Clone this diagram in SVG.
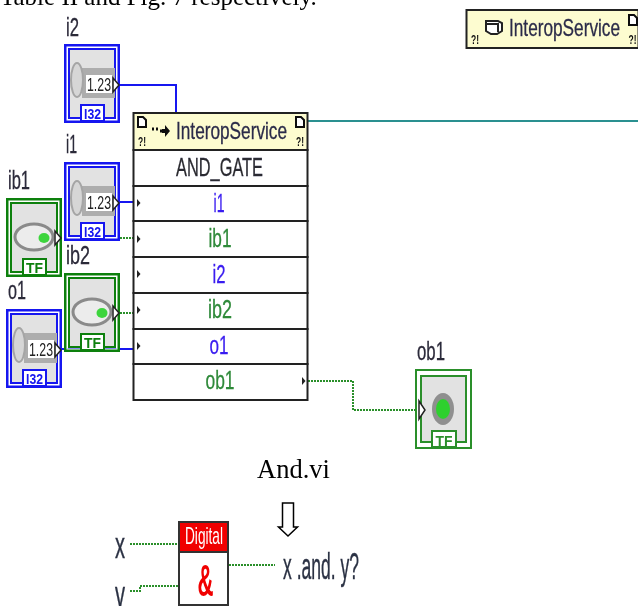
<svg xmlns="http://www.w3.org/2000/svg" width="638" height="606" viewBox="0 0 638 606">
<style>
.lb{font-family:"Liberation Sans",Arial,sans-serif;font-size:25px;fill:#2c2a3a;stroke:#2c2a3a;stroke-width:.3}
.ser{font-family:"Liberation Serif","Times New Roman",serif;fill:#000}
.row{fill:#fff;stroke:#222;stroke-width:2}
.blue{fill:#3a1df0;stroke:#3a1df0;stroke-width:.3}.grn{fill:#2f8a3a;stroke:#2f8a3a;stroke-width:.3}
.mid{text-anchor:middle}
.sans{font-family:"Liberation Sans",Arial,sans-serif}
.dk{stroke:#2c2c4a;stroke-width:.3}
.wb{fill:none;stroke:#1414f0;stroke-width:2}
.wg{fill:none;stroke:#2a8f2a;stroke-width:2;stroke-dasharray:2 1}
.tag{font-family:"Liberation Sans",Arial,sans-serif;font-weight:bold;font-size:14px;text-anchor:middle}
.hdr{fill:#fdfcd0;stroke:#222;stroke-width:2}
.warn{font-family:"Liberation Sans",Arial,sans-serif;font-size:12px;font-weight:bold;fill:#111;text-anchor:middle}
.doc{fill:#fff;stroke:#111;stroke-width:2}
</style>
<defs>
<filter id="soft" x="0" y="0" width="100%" height="100%"><feGaussianBlur stdDeviation="0.45"/></filter>
<polygon id="pin" points="0,-4 3.500,0 0,4" fill="#222"/>
<path id="docicon" class="doc" d="M0 0H5L8 3V10H0Z"/>
<g id="num">
<rect x="1.500" y="1.500" width="53" height="76" fill="none" stroke="#1414f0" stroke-width="3"/>
<rect x="3" y="3" width="50" height="73" fill="none" stroke="#fff" stroke-width="1"/>
<rect x="5" y="5" width="46" height="69" fill="#e2e2e2" stroke="#1414f0" stroke-width="2"/>
<rect x="18" y="24" width="33" height="30" fill="#adadad"/>
<ellipse cx="13" cy="36" rx="6" ry="17" fill="#d6d6d6" stroke="#a5a5a5" stroke-width="2"/>
<rect x="22" y="31" width="26" height="18" fill="#fff"/>
<text x="35" y="47" class="mid sans" font-size="18" fill="#222" textLength="24" lengthAdjust="spacingAndGlyphs">1.23</text>
<polygon points="49,34 55,41 49,48" fill="#fff" stroke="#222" stroke-width="1.500"/>
<rect x="17" y="61" width="23" height="16" fill="#fff" stroke="#1414f0" stroke-width="2"/>
<text x="28.500" y="75" class="tag" fill="#1414f0" textLength="17" lengthAdjust="spacingAndGlyphs">I32</text>
</g>
<g id="bool">
<rect x="1.500" y="1.500" width="53" height="76" fill="none" stroke="#0f800f" stroke-width="3"/>
<rect x="3" y="3" width="50" height="73" fill="none" stroke="#fff" stroke-width="1"/>
<rect x="5" y="5" width="46" height="69" fill="#e2e2e2" stroke="#0f800f" stroke-width="2"/>
<ellipse cx="28" cy="39" rx="19" ry="13" fill="#ececec" stroke="#8a8a8a" stroke-width="3"/>
<ellipse cx="38" cy="40" rx="5.500" ry="5" fill="#3ed53e"/>
<polygon points="49,33 55,40 49,47" fill="#fff" stroke="#222" stroke-width="1.500"/>
<rect x="17" y="61" width="23" height="16" fill="#fff" stroke="#0f800f" stroke-width="2"/>
<text x="28.500" y="75" class="tag" fill="#0f800f" textLength="17" lengthAdjust="spacingAndGlyphs">TF</text>
</g>
</defs>
<rect width="638" height="606" fill="#fff"/>
<g filter="url(#soft)">
<text class="ser" x="0" y="5" font-size="25">Table II and Fig. 7 respectively.</text>

<g id="connectors">
<path class="wb" d="M120 85H176V112"/>
<path class="wb" d="M120 202H133"/>
<path class="wg" d="M120 238H133"/>
<path class="wg" d="M120 313H133"/>
<path class="wb" d="M62 349H133"/>
<path fill="none" stroke="#2a9090" stroke-width="2" d="M307 121H638"/>
<path class="wg" d="M308 381H353V410H415"/>
<path class="wg" d="M130 544H179"/>
<path class="wg" d="M130 591H140V586H179"/>
<path class="wg" d="M229 565H275"/>
</g>

<g id="i2"><text class="lb" x="66" y="36" textLength="13" lengthAdjust="spacingAndGlyphs">i2</text><use href="#num" x="64" y="44"/></g>
<g id="i1"><text class="lb" x="66" y="153" textLength="11" lengthAdjust="spacingAndGlyphs">i1</text><use href="#num" x="64" y="162"/></g>
<g id="ib1"><text class="lb" x="8" y="189" textLength="22" lengthAdjust="spacingAndGlyphs">ib1</text><use href="#bool" x="6" y="198"/></g>
<g id="ib2"><text class="lb" x="66" y="264" textLength="24" lengthAdjust="spacingAndGlyphs">ib2</text><use href="#bool" x="64" y="273"/></g>
<g id="o1"><text class="lb" x="8" y="299" textLength="18" lengthAdjust="spacingAndGlyphs">o1</text><use href="#num" x="6" y="309"/></g>

<g id="interop-node">
<rect class="hdr" x="133.500" y="113" width="174" height="37"/>
<use href="#docicon" x="138" y="117"/>
<text x="142" y="146" class="warn" textLength="8" lengthAdjust="spacingAndGlyphs">?!</text>
<use href="#docicon" x="296" y="117"/>
<text x="300" y="146" class="warn" textLength="8" lengthAdjust="spacingAndGlyphs">?!</text>
<path d="M152 129h2M156 129h2M156 133h0M160 131h3" stroke="#111" stroke-width="3" fill="none"/>
<path d="M162 129h3v-4l5 6l-5 6v-4h-3z" fill="#111"/>
<text x="176" y="139" class="sans dk" font-size="24" fill="#2c2c4a" textLength="111" lengthAdjust="spacingAndGlyphs">InteropService</text>
<rect class="row" x="133.500" y="150" width="174" height="36"/>
<text x="219.500" y="176" class="mid sans dk" font-size="25" fill="#2c2c2c" textLength="87" lengthAdjust="spacingAndGlyphs">AND_GATE</text>
<rect class="row" x="133.500" y="186" width="174" height="35"/>
<rect class="row" x="133.500" y="221" width="174" height="36"/>
<rect class="row" x="133.500" y="257" width="174" height="36"/>
<rect class="row" x="133.500" y="293" width="174" height="36"/>
<rect class="row" x="133.500" y="329" width="174" height="35"/>
<rect class="row" x="133.500" y="364" width="174" height="36"/>
<use href="#pin" x="137" y="203"/><use href="#pin" x="137" y="239"/><use href="#pin" x="137" y="274"/><use href="#pin" x="137" y="310"/><use href="#pin" x="137" y="346"/><use href="#pin" x="302" y="381"/>
<g class="sans" font-size="25" text-anchor="middle">
<text class="blue" x="219" y="212" textLength="11" lengthAdjust="spacingAndGlyphs">i1</text>
<text class="grn" x="220" y="247" textLength="23" lengthAdjust="spacingAndGlyphs">ib1</text>
<text class="blue" x="219" y="283" textLength="13" lengthAdjust="spacingAndGlyphs">i2</text>
<text class="grn" x="220" y="318" textLength="24" lengthAdjust="spacingAndGlyphs">ib2</text>
<text class="blue" x="219" y="354" textLength="19" lengthAdjust="spacingAndGlyphs">o1</text>
<text class="grn" x="220" y="389" textLength="29" lengthAdjust="spacingAndGlyphs">ob1</text>
</g>
</g>

<g id="interop-top">
<rect class="hdr" x="466.500" y="10" width="172" height="38"/>
<text x="475" y="44" class="warn" textLength="8" lengthAdjust="spacingAndGlyphs">?!</text>
<use href="#docicon" x="629" y="15"/>
<text x="632.500" y="44" class="warn" textLength="8" lengthAdjust="spacingAndGlyphs">?!</text>
<path d="M486 21h12l4 2v8l-5 3h-6l-5-3z" fill="#fff" stroke="#222" stroke-width="2"/><path d="M486 24h12v8" stroke="#222" stroke-width="2" fill="none"/>
<text x="509" y="36" class="sans dk" font-size="24" fill="#2c2c4a" textLength="111" lengthAdjust="spacingAndGlyphs">InteropService</text>
</g>

<g id="ob1">
<text class="lb" x="417" y="360" textLength="28" lengthAdjust="spacingAndGlyphs">ob1</text>
<rect x="416" y="370" width="55" height="78" fill="#fff" stroke="#2a8f2a" stroke-width="2"/>
<rect x="421" y="376" width="45" height="66" fill="#e2e2e2" stroke="#2a8f2a" stroke-width="2"/>
<ellipse cx="443" cy="409" rx="11" ry="16" fill="#8f8f8f"/>
<ellipse cx="443" cy="409" rx="7" ry="10" fill="#2fd02f"/>
<polygon points="419,401 425,410 419,419" fill="#fff" stroke="#222" stroke-width="1.500"/>
<rect x="432" y="431" width="24" height="16" fill="#fff" stroke="#2a8f2a" stroke-width="2"/>
<text x="444" y="446" class="tag" fill="#2a8f2a" textLength="17" lengthAdjust="spacingAndGlyphs">TF</text>
</g>

<text class="ser mid" x="293.500" y="478" font-size="26.500">And.vi</text>
<g id="down-arrow"><path d="M282.500 503H293.500V527H297.500L288 536L278.500 527H282.500Z" fill="#fff" stroke="#000" stroke-width="1.500"/></g>

<g id="digital-node">
<rect x="179" y="522" width="49" height="30" fill="#f00000" stroke="#333" stroke-width="2"/>
<text x="204" y="544" class="mid sans" font-size="24" fill="#fff" textLength="38" lengthAdjust="spacingAndGlyphs">Digital</text>
<rect x="179" y="552" width="49" height="53" fill="#fff" stroke="#333" stroke-width="2"/>
<text x="205.500" y="596" class="mid sans" font-size="44" font-weight="bold" fill="#f00000" textLength="16" lengthAdjust="spacingAndGlyphs">&amp;</text>
</g>
<g id="labels" class="sans" font-size="37" fill="#2c3244" stroke="#2c3244" stroke-width=".4">
<text x="115" y="558" textLength="10" lengthAdjust="spacingAndGlyphs">x</text>
<text x="115" y="607" textLength="10" lengthAdjust="spacingAndGlyphs">y</text>
<text x="283" y="579" textLength="76" lengthAdjust="spacingAndGlyphs">x .and. y?</text>
</g>
</g>
</svg>
